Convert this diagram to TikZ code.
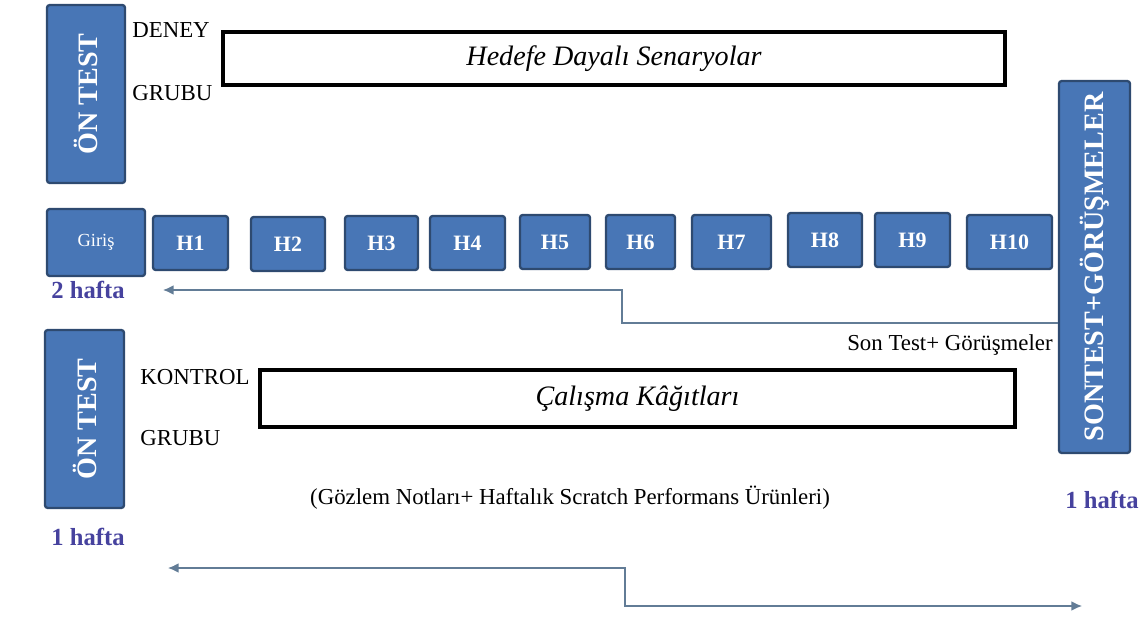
\documentclass[tikz,border=0pt]{standalone}
\usepackage{fontspec}
\setmainfont{Liberation Serif}
\usetikzlibrary{arrows.meta,positioning}
\definecolor{boxfill}{RGB}{72,118,182}
\definecolor{boxline}{RGB}{46,74,112}
\definecolor{haftacol}{RGB}{70,66,158}
\definecolor{flowcol}{RGB}{98,124,150}
\tikzset{%
  phase/.style={draw=boxline, fill=boxfill, line width=1.3pt, rounded corners=1.5pt, text=white, inner sep=0pt, font=\fontsize{16}{18}\selectfont\bfseries},
  hbox/.style={phase, minimum height=1.08cm, font=\fontsize{12.5}{14}\selectfont\bfseries},
  activity/.style={draw=black, line width=2.2pt, font=\fontsize{16}{18}\selectfont\itshape},
  grp/.style={anchor=west, inner sep=0pt, font=\fontsize{13}{15}\selectfont},
  note/.style={inner sep=0pt, font=\fontsize{13}{15}\selectfont},
  hafta/.style={text=haftacol, inner sep=0pt, font=\fontsize{14}{16}\selectfont\bfseries},
  flow/.style={draw=flowcol, line width=0.8pt},
  tip/.tip={Latex[length=6pt,width=5.5pt]},
}
\newcommand{\dikey}[1]{\rotatebox{90}{#1}}

\begin{document}
\begin{tikzpicture}[x=0.02cm, y=-0.02cm]
  \useasboundingbox (0,0) rectangle (1142,621);

  % deney grubu
  \node[phase, minimum width=1.56cm, minimum height=3.56cm] (ontest1) at (86,94) {\dikey{ÖN TEST}};
  \node[grp] (deney) at (132,30) {DENEY};
  \node[grp] (grubu1) at (132,93) {GRUBU};
  \node[activity, minimum width=15.64cm, minimum height=1.06cm] (senaryo) at (614,58.5) {Hedefe Dayalı Senaryolar};

  % haftalar
  \node[phase, minimum width=1.96cm, minimum height=1.34cm, font=\fontsize{10.5}{12}\selectfont] (giris) at (96,242.5) {Giriş};
  \foreach \i/\cx/\cy/\w in {1/190.5/243/1.50, 2/288/244/1.48, 3/381.5/243/1.46, 4/467.5/243/1.50,
    5/555/242/1.40, 6/640.5/242/1.38, 7/731.5/242/1.58, 8/825/240/1.48, 9/912.5/240/1.50, 10/1009.5/242/1.70}
    \node[hbox, minimum width=\w cm] (h\i) at (\cx,\cy) {H\i};
  \node[hafta] (hafta2) at (88,290) {2 hafta};

  \node[phase, minimum width=1.42cm, minimum height=7.44cm] (sontest) at (1094.5,267) {\dikey{SONTEST+GÖRÜŞMELER}};
  \node[hafta] (hafta1r) at (1102,500) {1 hafta};

  \coordinate (ustdon) at (622,323);
  \coordinate (ustuc) at (163,290);
  \draw[flow, -tip] (sontest.west |- ustdon) -- (ustdon) |- (ustuc);
  \node[note, anchor=east] (sontestnot) at (1053,345) {Son Test+ Görüşmeler};

  % kontrol grubu
  \node[phase, minimum width=1.58cm, minimum height=3.56cm] (ontest2) at (84.5,419) {\dikey{ÖN TEST}};
  \node[grp] (kontrol) at (140,377) {KONTROL};
  \node[grp] (grubu2) at (140,438) {GRUBU};
  \node[activity, minimum width=15.1cm, minimum height=1.14cm] (calisma) at (637.5,398.5) {Çalışma Kâğıtları};
  \node[note] (gozlem) at (570,498) {(Gözlem Notları+ Haftalık Scratch Performans Ürünleri)};
  \node[hafta] (hafta1l) at (88,537) {1 hafta};

  \coordinate (altsol) at (168,568);
  \coordinate (altdon) at (625,606);
  \coordinate (altsag) at (1082,606);
  \draw[flow, tip-tip] (altsol) -| (altdon) -- (altsag);
\end{tikzpicture}
\end{document}
